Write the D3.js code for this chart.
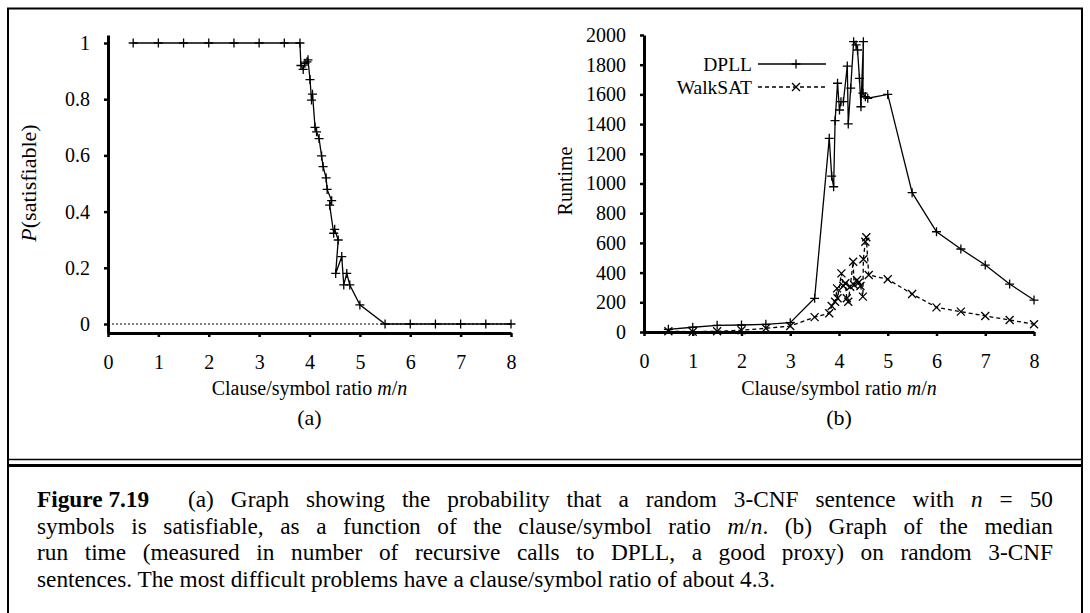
<!DOCTYPE html>
<html><head><meta charset="utf-8">
<script src="https://cdn.jsdelivr.net/npm/d3@7"></script>
<style>
body{margin:0;background:#fff}
text{font-family:"Liberation Serif","Times New Roman",serif;fill:#000}
</style>
</head><body>
<svg id="chart" width="1090" height="613"></svg>
<script>
// ---------- data ----------
const xTicks = [0,1,2,3,4,5,6,7,8];
const pTicks = [0,0.2,0.4,0.6,0.8,1];
const rTicks = [0,200,400,600,800,1000,1200,1400,1600,1800,2000];
const seriesNames = ["DPLL","WalkSAT"];

// (a) P(satisfiable) vs m/n  (in drawing order)
const pX = [0.5,1,1.5,2,2.5,3,3.5,3.81,3.83,3.875,3.91,3.95,3.97,4.01,4.04,4.06,4.11,4.14,4.19,4.24,4.27,4.33,4.35,4.44,4.40,4.48,4.50,4.57,4.52,4.64,4.68,4.74,4.80,5.0,5.5,6,6.5,7,7.5,8];
const pY = [1,1,1,1,1,1,1,1.0,0.92,0.906,0.928,0.933,0.94,0.87,0.797,0.818,0.70,0.684,0.66,0.598,0.56,0.52,0.479,0.439,0.423,0.323,0.337,0.299,0.18,0.24,0.139,0.18,0.139,0.068,0,0,0,0,0,0];

// (b) runtime, DPLL
const dpllX = [0.5,1,1.5,2,2.5,3,3.5,3.80,3.85,3.89,3.92,3.97,4.01,4.04,4.09,4.17,4.19,4.24,4.30,4.35,4.38,4.42,4.45,4.50,4.49,4.54,4.59,5,5.5,6,6.5,7,7.5,8];
const dpllY = [18,32,45,47,52,63,227,1304,1050,978,1423,1675,1495,1551,1551,1791,1401,1642,1955,1933,1899,1708,1517,1955,1608,1585,1574,1600,938,675,559,451,323,215];

// (b) runtime, WalkSAT
const walkX = [0.5,1,1.5,2,2.5,3,3.5,3.80,3.85,3.92,3.96,3.97,4.05,4.09,4.13,4.16,4.19,4.23,4.29,4.31,4.37,4.40,4.44,4.49,4.50,4.54,4.56,4.61,5,5.5,6,6.5,7,7.5,8];
const walkY = [5,2,5,12,25,40,100,126,175,204,294,227,395,310,328,227,204,305,473,316,350,332,310,238,490,608,638,384,355,256,166,137,108,81,52];

// caption lines: segments [text, style]
const captionLines = [
  [["Figure 7.19","b"]],
  [["(a) Graph showing the probability that a random 3-CNF sentence with ",""],["n","i"],[" = 50",""]],
  [["symbols is satisfiable, as a function of the clause/symbol ratio ",""],["m","i"],["/",""],["n","i"],[". (b) Graph of the median",""]],
  [["run time (measured in number of recursive calls to DPLL, a good proxy) on random 3-CNF",""]],
  [["sentences. The most difficult problems have a clause/symbol ratio of about 4.3.",""]]
];

// ---------- drawing ----------
const svg = d3.select("#chart");
svg.append("rect").attr("width",1090).attr("height",613).attr("fill","#fff");

// frame
svg.append("path").attr("d","M8,613V8.5H1082V613").attr("fill","none").attr("stroke","#000").attr("stroke-width",2);
svg.append("line").attr("x1",8).attr("x2",1082).attr("y1",459.5).attr("y2",459.5).attr("stroke","#000").attr("stroke-width",1.6);
svg.append("line").attr("x1",8).attr("x2",1082).attr("y1",465.5).attr("y2",465.5).attr("stroke","#000").attr("stroke-width",2.8);

const plusPath = "M-4.5,0H4.5M0,-4.5V4.5";
const crossPath = "M-4,-4L4,4M-4,4L4,-4";

function styleAxis(g){
  g.select(".domain").attr("stroke-width",3);
  g.selectAll(".tick line").attr("stroke-width",2.5);
  g.selectAll(".tick text").style("font-family","'Liberation Serif',serif").style("font-size","20px");
}

// ---- panel (a) ----
const xa = d3.scaleLinear().domain([0,8]).range([108,511]);
const ya = d3.scaleLinear().domain([0,1]).range([324,43]);
const yaBottom = 333, yaTop = 35;

// dotted line at P=0
svg.append("line").attr("x1",xa(0)).attr("x2",xa(8)).attr("y1",ya(0)).attr("y2",ya(0))
  .attr("stroke","#000").attr("stroke-width",1).attr("stroke-dasharray","2,2");

const gxa = svg.append("g").attr("transform",`translate(0,${yaBottom})`)
  .call(d3.axisBottom(xa).tickValues(xTicks).tickSize(4).tickSizeOuter(0).tickPadding(18).tickFormat(d3.format("d")));
styleAxis(gxa);
const yaAxisScale = d3.scaleLinear().domain([ya.invert(yaBottom), ya.invert(yaTop)]).range([yaBottom,yaTop]);
const gya = svg.append("g").attr("transform",`translate(${xa(0)},0)`)
  .call(d3.axisLeft(yaAxisScale).tickValues(pTicks).tickSize(4).tickSizeOuter(0).tickPadding(14).tickFormat(d=>String(+d.toFixed(1))));
styleAxis(gya);

const pData = pX.map((x,i)=>[x,pY[i]]);
svg.append("path").datum(pData).attr("fill","none").attr("stroke","#000").attr("stroke-width",1.3)
  .attr("d",d3.line().x(d=>xa(d[0])).y(d=>ya(d[1])));
svg.append("g").selectAll("path").data(pData).join("path")
  .attr("transform",d=>`translate(${xa(d[0])},${ya(d[1])})`).attr("d",plusPath)
  .attr("stroke","#000").attr("stroke-width",1.3).attr("fill","none");

// labels (a)
svg.append("text").attr("transform","translate(36,183) rotate(-90)").attr("text-anchor","middle")
  .style("font-size","22px")
  .call(t=>{t.append("tspan").style("font-style","italic").text("P");t.append("tspan").text("(satisfiable)");});
svg.append("text").attr("x",(xa(0)+xa(8))/2).attr("y",395).attr("text-anchor","middle").style("font-size","20px")
  .call(t=>{t.append("tspan").text("Clause/symbol ratio ");t.append("tspan").style("font-style","italic").text("m");t.append("tspan").text("/");t.append("tspan").style("font-style","italic").text("n");});
svg.append("text").attr("x",(xa(0)+xa(8))/2).attr("y",425).attr("text-anchor","middle").style("font-size","22px").text("(a)");

// ---- panel (b) ----
const xb = d3.scaleLinear().domain([0,8]).range([644,1034]);
const yb = d3.scaleLinear().domain([0,2000]).range([332,35]);

const gxb = svg.append("g").attr("transform",`translate(0,${yb(0)})`)
  .call(d3.axisBottom(xb).tickValues(xTicks).tickSize(4).tickSizeOuter(0).tickPadding(18).tickFormat(d3.format("d")));
styleAxis(gxb);
const gyb = svg.append("g").attr("transform",`translate(${xb(0)},0)`)
  .call(d3.axisLeft(yb).tickValues(rTicks).tickSize(4).tickSizeOuter(0).tickPadding(14).tickFormat(d3.format("d")));
styleAxis(gyb);

const dData = dpllX.map((x,i)=>[x,dpllY[i]]);
const wData = walkX.map((x,i)=>[x,walkY[i]]);
const lineB = d3.line().x(d=>xb(d[0])).y(d=>yb(d[1]));

svg.append("path").datum(wData).attr("fill","none").attr("stroke","#000").attr("stroke-width",1.3)
  .attr("stroke-dasharray","4,3").attr("d",lineB);
svg.append("g").selectAll("path").data(wData).join("path")
  .attr("transform",d=>`translate(${xb(d[0])},${yb(d[1])})`).attr("d",crossPath)
  .attr("stroke","#000").attr("stroke-width",1.3);

svg.append("path").datum(dData).attr("fill","none").attr("stroke","#000").attr("stroke-width",1.3).attr("d",lineB);
svg.append("g").selectAll("path").data(dData).join("path")
  .attr("transform",d=>`translate(${xb(d[0])},${yb(d[1])})`).attr("d",plusPath)
  .attr("stroke","#000").attr("stroke-width",1.3);

// legend
const legY = [64,87];
const legend = svg.append("g");
seriesNames.forEach((name,i)=>{
  legend.append("text").attr("x",752).attr("y",legY[i]+7).attr("text-anchor","end").style("font-size","19.5px").text(name);
  legend.append("line").attr("x1",758).attr("x2",826).attr("y1",legY[i]).attr("y2",legY[i])
    .attr("stroke","#000").attr("stroke-width",1.3).attr("stroke-dasharray",i? "4,3":null);
  legend.append("path").attr("transform",`translate(796,${legY[i]})`).attr("d",i?crossPath:plusPath)
    .attr("stroke","#000").attr("stroke-width",1.3);
});

// labels (b)
svg.append("text").attr("transform","translate(572,181) rotate(-90)").attr("text-anchor","middle")
  .style("font-size","20px").text("Runtime");
svg.append("text").attr("x",(xb(0)+xb(8))/2).attr("y",395).attr("text-anchor","middle").style("font-size","20px")
  .call(t=>{t.append("tspan").text("Clause/symbol ratio ");t.append("tspan").style("font-style","italic").text("m");t.append("tspan").text("/");t.append("tspan").style("font-style","italic").text("n");});
svg.append("text").attr("x",(xb(0)+xb(8))/2).attr("y",425).attr("text-anchor","middle").style("font-size","22px").text("(b)");

// ---- caption ----
const capFont = 23.3;
const capBase = [507,507,534,560,587];
const capX = [37,188,37,37,37];
const capEnd = 1053;
captionLines.forEach((segs,i)=>{
  const t = svg.append("text").attr("x",capX[i]).attr("y",capBase[i]).style("font-size",capFont+"px");
  segs.forEach(s=>{
    const ts = t.append("tspan").text(s[0]);
    if(s[1]==="b") ts.style("font-weight","bold");
    if(s[1]==="i") ts.style("font-style","italic");
  });
  if(i===1||i===2||i===3){
    const w = t.node().getComputedTextLength();
    const full = segs.map(s=>s[0]).join("");
    const spaces = (full.match(/ /g)||[]).length;
    const extra = (capEnd - capX[i] - w)/spaces;
    t.style("word-spacing",extra+"px");
  }
});
</script>
</body></html>
